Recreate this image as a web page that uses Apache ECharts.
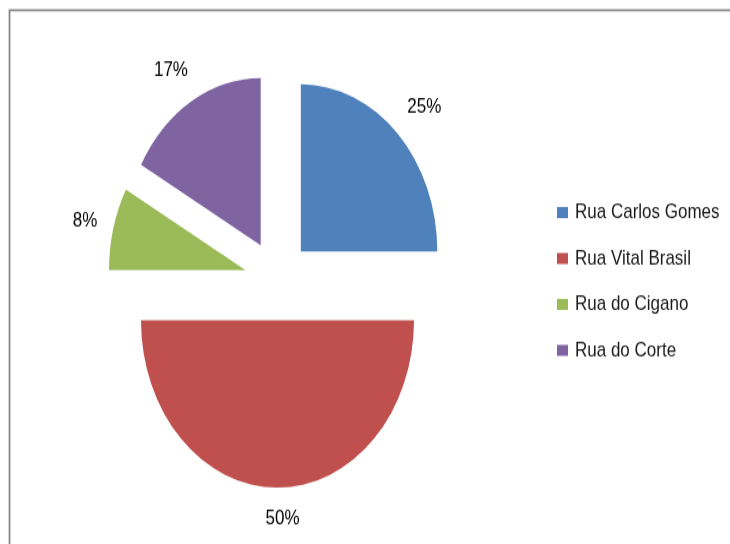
<!DOCTYPE html>
<html>
<head>
<meta charset="utf-8">
<script src="https://cdn.jsdelivr.net/npm/echarts@6/dist/echarts.min.js"></script>
<style>
  html, body { margin: 0; padding: 0; background: #fff; overflow: hidden; }
  #wrap { width: 730px; height: 544px; overflow: hidden; position: relative; }
  #chart { width: 730px; transform-origin: 0 0; position: absolute; left: 0; top: 0; }
</style>
</head>
<body>
<div id="wrap"><div id="chart"></div></div>
<script>
// Streets and their share of the total (percent)
const categories = ['Rua Carlos Gomes', 'Rua Vital Brasil', 'Rua do Cigano', 'Rua do Corte'];
const shares = [25, 50, 8, 17];
const colors = ['#4F81BD', '#C0504D', '#9BBB59', '#8064A2'];
// How far each percentage label sits beyond its slice
const labelGaps = [31, 25, 24, 30];

// The whole drawing is stretched vertically, so render on a shorter canvas and scale it up.
const stretch = 1.225;
const el = document.getElementById('chart');
el.style.height = (544 / stretch) + 'px';
el.style.transform = 'scaleY(' + stretch + ')';

const textFont = { fontFamily: 'Liberation Sans', fontSize: 17, color: '#000' };

const chart = echarts.init(el, null, { renderer: 'canvas' });
chart.setOption({
  animation: false,
  backgroundColor: '#fff',
  graphic: [{
    type: 'rect',
    shape: { x: 9.5, y: 8.3, width: 900, height: 700 },
    style: { fill: 'none', stroke: '#8a8a8a', lineWidth: 1.8 },
    silent: true
  }],
  legend: {
    orient: 'vertical',
    left: 557,
    top: 165,
    padding: 0,
    itemWidth: 11,
    itemHeight: 9,
    itemGap: 20.5,
    icon: 'rect',
    textStyle: { fontFamily: 'Liberation Sans', fontSize: 17, color: '#1a1a1a', padding: [0, 0, 0, 2] },
    data: categories
  },
  series: [{
    type: 'pie',
    center: [277.5, 228.6],
    radius: 136.5,
    startAngle: 90,
    clockwise: true,
    selectedMode: 'multiple',
    selectedOffset: 33,
    emphasis: { disabled: true },
    select: { itemStyle: { borderWidth: 0 } },
    itemStyle: { borderWidth: 0 },
    label: Object.assign({ show: true, position: 'outside', formatter: '{d}%' }, textFont),
    labelLine: { show: false, length: 30, length2: 0 },
    labelLayout: function () { return { align: 'center' }; },
    data: categories.map(function (name, i) {
      return {
        name: name,
        value: shares[i],
        selected: true,
        itemStyle: { color: colors[i] },
        labelLine: { show: false, length: labelGaps[i], length2: 0 }
      };
    })
  }]
});
</script>
</body>
</html>
